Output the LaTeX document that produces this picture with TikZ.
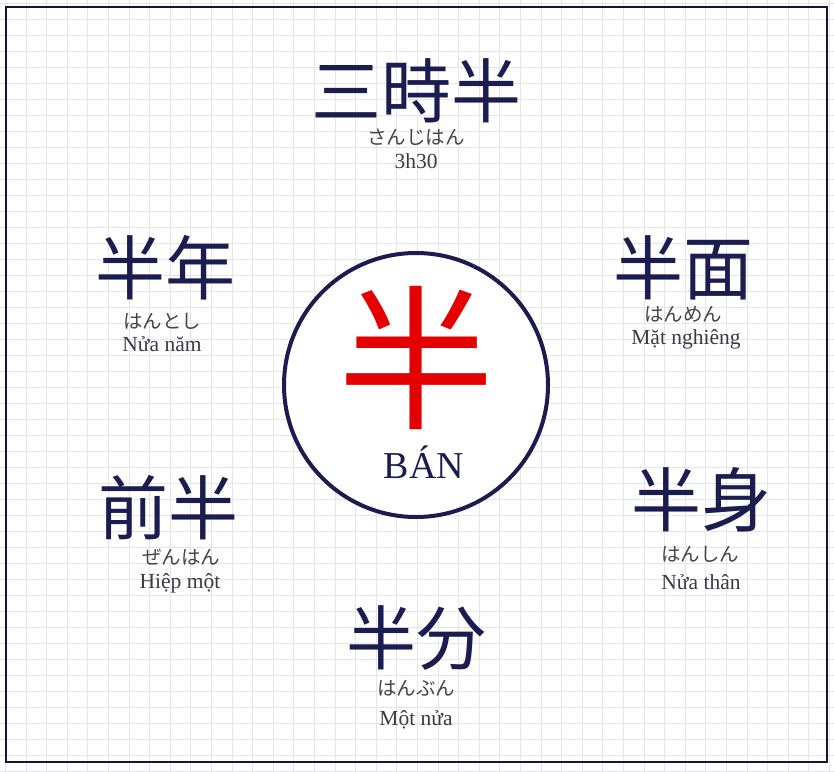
\documentclass[tikz,border=0pt]{standalone}
\usepackage{fontspec}
\setmainfont{Liberation Serif}
\newfontfamily\jpfont{Noto Sans CJK JP}
\usepackage{tikz}
\definecolor{navy}{HTML}{1B1C4F}
\definecolor{kanacol}{HTML}{454548}
\definecolor{viecol}{HTML}{3A3A44}
\definecolor{gridcol}{HTML}{E4E4EA}
\tikzset{
  kanji/.style={text=navy,font=\jpfont\fontsize{70}{72}\selectfont,inner sep=0pt},
  kana/.style={text=kanacol,font=\jpfont\fontsize{19.5}{21}\selectfont,inner sep=0pt},
  gloss/.style={text=viecol,font=\fontsize{21.5}{23}\selectfont,inner sep=0pt}
}

\begin{document}
\begin{tikzpicture}[x=1pt,y=-1pt]
\useasboundingbox (0,0) rectangle (834,771);
\fill[white] (0,0) rectangle (834,771);
% grid paper
\foreach \i in {0,...,40} \draw[gridcol,line width=0.9pt] (5.5+20.6*\i,0) -- (5.5+20.6*\i,771);
\foreach \j in {0,...,48} \draw[gridcol,line width=0.9pt] (0,3+16*\j) -- (834,3+16*\j);
\draw[navy!70!black,line width=2.2pt] (6,7) rectangle (827,762);
% centre
\draw[navy,line width=4pt,fill=white] (416,385) circle (132);
\node (ban) at (416,358) {\jpfont\fontsize{156}{156}\selectfont\color{red!90!black}半};
\node[text=navy,font=\fontsize{38}{40}\selectfont] (banvi) at (424,462) {BÁN};
% top
\node[kanji] (sanji) at (416,91) {三時半};
\node[kana] (sanjik) at (416,137) {さんじはん};
\node[gloss] (sanjiv) at (416,161) {3h30};
% upper left
\node[kanji] (hantoshi) at (165,268) {半年};
\node[kana] (hantoshik) at (162,321) {はんとし};
\node[gloss] (hantoshiv) at (162,344) {Nửa năm};
% upper right
\node[kanji] (hanmen) at (683,268) {半面};
\node[kana] (hanmenk) at (683,314) {はんめん};
\node[gloss] (hanmenv) at (686,339) {Mặt nghiêng};
% lower left
\node[kanji] (zenhan) at (168,508) {前半};
\node[kana] (zenhank) at (181,557) {ぜんはん};
\node[gloss] (zenhanv) at (180,583) {Hiệp một};
% lower right
\node[kanji] (hanshin) at (701,500) {半身};
\node[kana] (hanshink) at (700,554) {はんしん};
\node[gloss] (hanshinv) at (701,582) {Nửa thân};
% bottom
\node[kanji] (hanbun) at (416,638) {半分};
\node[kana] (hanbunk) at (416,688) {はんぶん};
\node[gloss] (hanbunv) at (416,720) {Một nửa};
\end{tikzpicture}
\end{document}
